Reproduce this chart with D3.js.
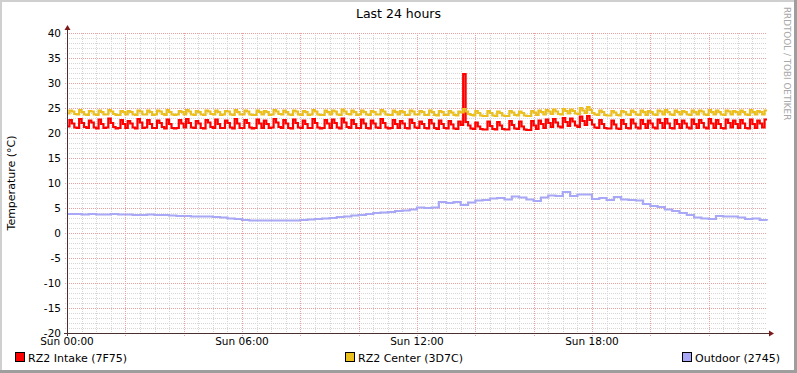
<!DOCTYPE html>
<html>
<head>
<meta charset="utf-8">
<script src="https://cdn.jsdelivr.net/npm/d3@7"></script>
<style>
  body { margin: 0; background: #fff; }
  svg { display: block; font-family: "DejaVu Sans", sans-serif; }
</style>
</head>
<body>
<svg id="chart" width="797" height="373"></svg>
<script>
// 5 minute samples, starting Sun 00:00
var intake = [
  21.3, 22.6, 21.9, 21.1, 21.0, 22.8, 22.0, 21.2, 21.0, 22.5, 22.1, 21.1,
  20.9, 22.7, 21.8, 21.0, 21.1, 22.9, 22.0, 21.2, 20.9, 21.0, 22.6, 21.8,
  21.0, 22.4, 21.9, 21.1, 20.9, 22.8, 22.1, 21.0, 21.1, 22.6, 21.8, 21.0,
  21.0, 22.5, 22.0, 21.2, 20.9, 22.7, 21.8, 21.0, 20.9, 21.0, 22.6, 21.9,
  21.1, 22.8, 22.0, 21.1, 21.0, 22.4, 21.9, 21.0, 20.9, 22.6, 22.1, 21.2,
  21.0, 22.7, 21.8, 21.0, 21.0, 22.5, 22.0, 21.1, 20.9, 22.8, 21.9, 21.0,
  21.0, 22.6, 22.0, 21.1, 20.9, 21.0, 22.7, 21.9, 21.0, 22.5, 21.8, 21.0,
  21.1, 22.8, 22.1, 21.2, 21.0, 22.6, 21.9, 21.0, 20.9, 22.7, 22.0, 21.1,
  21.0, 22.5, 21.8, 21.0, 21.0, 22.8, 22.0, 21.1, 20.9, 21.0, 22.6, 21.9,
  21.0, 22.7, 22.0, 21.1, 20.9, 22.9, 22.1, 21.2, 21.0, 22.6, 21.8, 21.0,
  21.0, 22.7, 21.9, 21.0, 20.9, 22.5, 21.9, 21.1, 21.0, 22.8, 22.0, 21.1,
  20.9, 21.0, 22.6, 21.8, 21.0, 22.4, 21.9, 21.0, 20.9, 22.7, 22.0, 21.1,
  21.0, 22.3, 21.8, 21.0, 20.9, 22.6, 21.9, 21.0, 20.8, 22.5, 21.8, 21.0,
  20.9, 22.4, 21.7, 20.9, 20.8, 22.3, 21.6, 31.8, 22.2, 21.5, 20.9, 20.8,
  22.1, 21.3, 20.8, 20.7, 20.7, 22.3, 21.4, 20.8, 20.7, 22.2, 21.5, 20.8,
  20.7, 20.7, 22.4, 21.6, 20.9, 20.8, 22.3, 21.3, 20.7, 20.6, 20.6, 22.4,
  21.5, 20.8, 22.5, 21.8, 21.0, 22.7, 22.0, 21.2, 22.8, 22.1, 21.3, 21.1,
  23.0, 22.2, 21.4, 22.9, 22.3, 21.5, 21.2, 23.3, 22.4, 21.6, 23.4, 22.6,
  21.7, 21.1, 21.0, 22.6, 21.8, 21.0, 20.9, 20.9, 22.5, 21.7, 20.9, 20.8,
  22.6, 21.8, 21.0, 20.9, 22.7, 21.9, 21.1, 20.9, 22.6, 21.8, 21.0, 22.5,
  21.9, 21.1, 20.9, 22.7, 22.0, 21.0, 22.8, 21.9, 21.0, 20.9, 22.6, 21.8,
  21.0, 22.5, 21.9, 21.1, 20.9, 22.7, 21.8, 21.0, 22.6, 22.0, 21.1, 20.9,
  22.8, 21.9, 21.0, 22.6, 21.8, 21.0, 20.9, 22.7, 22.0, 21.1, 22.5, 21.8,
  21.0, 22.6, 21.9, 21.0, 20.9, 22.7, 21.8, 21.0, 22.5, 21.9, 21.1, 22.7, 22.7
];

var center = [
  23.9, 24.5, 24.3, 23.8, 23.7, 24.6, 24.2, 23.7, 23.6, 24.4, 24.3, 23.7,
  23.6, 24.5, 24.2, 23.7, 23.7, 24.6, 24.3, 23.8, 23.6, 23.6, 24.4, 24.2,
  23.7, 24.4, 24.2, 23.7, 23.6, 24.5, 24.3, 23.7, 23.7, 24.5, 24.2, 23.6,
  23.7, 24.5, 24.3, 23.8, 23.6, 24.6, 24.2, 23.7, 23.6, 23.7, 24.4, 24.2,
  23.7, 24.6, 24.3, 23.7, 23.6, 24.4, 24.2, 23.7, 23.6, 24.5, 24.3, 23.8,
  23.7, 24.5, 24.2, 23.6, 23.7, 24.4, 24.3, 23.7, 23.6, 24.6, 24.2, 23.7,
  23.7, 24.5, 24.3, 23.7, 23.6, 23.6, 24.5, 24.2, 23.7, 24.4, 24.2, 23.6,
  23.7, 24.6, 24.3, 23.8, 23.7, 24.5, 24.2, 23.7, 23.6, 24.5, 24.3, 23.7,
  23.6, 24.4, 24.2, 23.6, 23.7, 24.6, 24.3, 23.7, 23.6, 23.6, 24.5, 24.2,
  23.7, 24.5, 24.3, 23.7, 23.6, 24.7, 24.3, 23.8, 23.7, 24.5, 24.2, 23.6,
  23.7, 24.5, 24.2, 23.7, 23.6, 24.4, 24.2, 23.7, 23.7, 24.6, 24.3, 23.7,
  23.6, 23.6, 24.5, 24.2, 23.7, 24.4, 24.2, 23.6, 23.6, 24.5, 24.3, 23.7,
  23.7, 24.4, 24.2, 23.6, 23.6, 24.5, 24.2, 23.6, 23.5, 24.4, 24.2, 23.6,
  23.6, 24.4, 24.1, 23.6, 23.5, 24.3, 24.1, 24.8, 24.3, 23.8, 23.6, 23.5,
  24.4, 24.0, 23.5, 23.4, 23.4, 24.4, 24.0, 23.5, 23.4, 24.3, 24.0, 23.5,
  23.4, 23.4, 24.4, 24.1, 23.6, 23.5, 24.3, 24.0, 23.5, 23.4, 23.4, 24.4,
  24.1, 23.6, 24.5, 24.2, 23.7, 24.6, 24.3, 23.8, 24.7, 24.3, 23.8, 23.7,
  24.8, 24.4, 23.9, 24.7, 24.4, 23.9, 23.8, 25.0, 24.5, 24.0, 25.2, 24.6,
  24.0, 23.7, 23.6, 24.5, 24.2, 23.6, 23.5, 23.5, 24.4, 24.1, 23.6, 23.5,
  24.4, 24.2, 23.7, 23.6, 24.5, 24.2, 23.7, 23.6, 24.5, 24.2, 23.6, 24.4,
  24.2, 23.7, 23.6, 24.5, 24.3, 23.7, 24.6, 24.2, 23.7, 23.6, 24.5, 24.2,
  23.7, 24.4, 24.2, 23.7, 23.6, 24.5, 24.2, 23.7, 24.5, 24.3, 23.7, 23.6,
  24.6, 24.2, 23.7, 24.5, 24.2, 23.7, 23.6, 24.5, 24.3, 23.7, 24.4, 24.2,
  23.7, 24.5, 24.2, 23.7, 23.6, 24.6, 24.2, 23.7, 24.4, 24.2, 23.7, 24.5, 24.5
];

// 15 minute samples
var outdoor = [
  3.8, 3.8, 3.7, 3.8, 3.7, 3.7, 3.8, 3.7, 3.7, 3.6, 3.6, 3.7,
  3.6, 3.6, 3.5, 3.4, 3.4, 3.3, 3.3, 3.3, 3.2, 3.1, 2.9, 2.8,
  2.6, 2.5, 2.5, 2.5, 2.5, 2.5, 2.5, 2.5, 2.6, 2.7, 2.8, 2.9,
  3.0, 3.2, 3.3, 3.5, 3.6, 3.8, 4.0, 4.1, 4.2, 4.4, 4.5, 4.7,
  5.1, 5.0, 5.1, 6.2, 6.0, 6.2, 5.6, 6.1, 6.5, 6.6, 6.9, 7.0,
  6.7, 7.3, 7.1, 6.7, 6.4, 7.1, 7.5, 7.4, 8.2, 7.4, 7.7, 7.7,
  6.8, 7.0, 6.6, 7.2, 6.7, 6.6, 6.5, 5.8, 5.4, 5.2, 4.7, 4.4,
  4.0, 3.6, 3.1, 2.9, 2.8, 3.4, 3.3, 3.3, 3.1, 2.8, 2.9, 2.6, 2.5
];

var series = [
  {name: 'RZ2 Intake (7F75)', values: intake, step: 5, color: '#FF0000'},
  {name: 'RZ2 Center (3D7C)', values: center, step: 5, color: '#EBC01E'},
  {name: 'Outdoor (2745)', values: outdoor, step: 15, color: '#A8A8F6'}
];
var yTicks = [-20, -15, -10, -5, 0, 5, 10, 15, 20, 25, 30, 35, 40];
var xLabels = ['Sun 00:00', 'Sun 06:00', 'Sun 12:00', 'Sun 18:00'];

var W = 797, H = 373;
var pLeft = 67, pRight = 767, pTop = 33, pBottom = 333;
var t0 = new Date(2011, 0, 2, 0, 0);
var t1 = new Date(2011, 0, 3, 0, 0);

var svg = d3.select('#chart');
var x = d3.scaleTime().domain([t0, t1]).range([pLeft, pRight]);
var y = d3.scaleLinear().domain([-20, 40]).range([pBottom, pTop]);

// frame
svg.append('rect').attr('width', W).attr('height', H).attr('fill', '#fff');
svg.append('path').attr('d', 'M0,0H' + W + 'V2H2V' + H + 'H0Z').attr('fill', '#CFCFCF');
svg.append('path').attr('d', 'M' + W + ',' + H + 'H0V' + (H - 3) + 'H' + (W - 3) + 'V0H' + W + 'Z').attr('fill', '#9E9E9E');

// grid
var g = svg.append('g').attr('shape-rendering', 'crispEdges');
var minorY = d3.range(-20, 41, 1).filter(v => v % 5 != 0);
g.selectAll('line.ymin').data(minorY).enter().append('line')
  .attr('x1', pLeft - 2).attr('x2', pRight)
  .attr('y1', d => y(d) + 0.5).attr('y2', d => y(d) + 0.5)
  .attr('stroke', '#D6D6D6').attr('stroke-dasharray', '1,1');
var minorX = d3.timeMinute.every(30).range(t0, t1);
g.selectAll('line.xmin').data(minorX).enter().append('line')
  .attr('x1', d => Math.round(x(d)) + 0.5).attr('x2', d => Math.round(x(d)) + 0.5)
  .attr('y1', pTop).attr('y2', pBottom + 2)
  .attr('stroke', '#D6D6D6').attr('stroke-dasharray', '1,1');
g.selectAll('line.ymaj').data(yTicks).enter().append('line')
  .attr('x1', pLeft - 2).attr('x2', pRight)
  .attr('y1', d => y(d) + 0.5).attr('y2', d => y(d) + 0.5)
  .attr('stroke', '#E8A0A0').attr('stroke-dasharray', '1,1');
var majorX = d3.timeHour.every(2).range(t0, t1);
g.selectAll('line.xmaj').data(majorX).enter().append('line')
  .attr('x1', d => Math.round(x(d)) + 0.5).attr('x2', d => Math.round(x(d)) + 0.5)
  .attr('y1', pTop).attr('y2', pBottom + 3)
  .attr('stroke', '#E8A0A0').attr('stroke-dasharray', '1,1');

// lines
series.forEach(function(s) {
  var line = d3.line()
    .x((d, i) => x(d3.timeMinute.offset(t0, i * s.step)))
    .y(d => y(d))
    .curve(d3.curveStepAfter);
  svg.append('path')
    .attr('d', line(s.values))
    .attr('fill', 'none')
    .attr('stroke', s.color)
    .attr('stroke-width', 2.2)
    .attr('stroke-linejoin', 'miter');
});

// axes
svg.append('line').attr('x1', pLeft - 3).attr('x2', pRight + 3)
  .attr('y1', pBottom + 0.5).attr('y2', pBottom + 0.5)
  .attr('stroke', '#4A3030').attr('shape-rendering', 'crispEdges');
svg.append('line').attr('x1', pLeft + 0.5).attr('x2', pLeft + 0.5)
  .attr('y1', pBottom + 3).attr('y2', pTop - 4)
  .attr('stroke', '#4A3030').attr('shape-rendering', 'crispEdges');
svg.append('path').attr('d', 'M' + (pRight + 2) + ',' + (pBottom - 2.5) + 'l5,3l-5,3z').attr('fill', '#7F1818');
svg.append('path').attr('d', 'M' + (pLeft - 2.5) + ',' + (pTop - 3) + 'l3,-5l3,5z').attr('fill', '#7F1818');

// tick labels
svg.append('g').selectAll('text').data(yTicks).enter().append('text')
  .attr('x', pLeft - 6).attr('y', d => y(d) + 4)
  .attr('text-anchor', 'end').attr('font-size', 10.5)
  .text(d => d);
var xLabelTimes = d3.timeHour.every(6).range(t0, t1);
svg.append('g').selectAll('text').data(xLabelTimes).enter().append('text')
  .attr('x', d => x(d)).attr('y', pBottom + 12)
  .attr('text-anchor', 'middle').attr('font-size', 10.5)
  .text((d, i) => xLabels[i]);

// titles
svg.append('text').attr('x', W / 2).attr('y', 18).attr('text-anchor', 'middle')
  .attr('font-size', 12.5).text('Last 24 hours');
svg.append('text').attr('transform', 'translate(15,' + ((pTop + pBottom) / 2) + ') rotate(-90)')
  .attr('text-anchor', 'middle').attr('font-size', 11).text('Temperature (°C)');
svg.append('text').attr('transform', 'translate(784,7) rotate(90)')
  .attr('font-size', 8.8).attr('fill', '#A8A8A8').text('RRDTOOL / TOBI OETIKER');

// legend
var legendX = [15, 345, 682];
series.forEach(function(s, i) {
  svg.append('rect').attr('x', legendX[i] + 0.5).attr('y', 352.5).attr('width', 9).attr('height', 9)
    .attr('fill', s.color).attr('stroke', '#000').attr('shape-rendering', 'crispEdges');
  svg.append('text').attr('x', legendX[i] + 13).attr('y', 362)
    .attr('font-size', 11).text(s.name);
});
</script>
</body>
</html>
